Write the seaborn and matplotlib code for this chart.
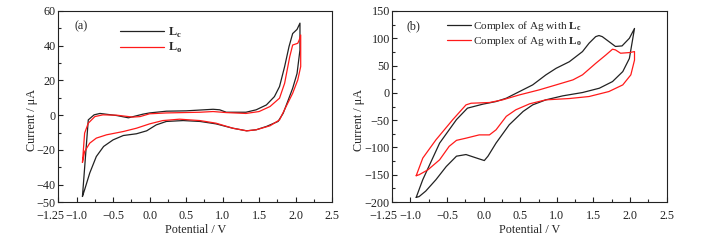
import numpy as np
import pandas as pd
import matplotlib
matplotlib.use('Agg')
import matplotlib.pyplot as plt
import matplotlib.transforms as mtransforms
import seaborn as sns

# potentials (V) and currents (uA), each loop traced once around
a_lc_v = [-0.92, -0.84, -0.76, -0.68, -0.45, -0.29, -0.09, 0.0, 0.23, 0.5, 0.87, 0.96, 1.05, 1.32, 1.46, 1.6,
          1.71, 1.78, 1.85, 1.91, 1.96, 2.02, 2.06,
          2.06, 2.02, 1.96, 1.9, 1.83, 1.76, 1.6, 1.46, 1.33, 1.14, 0.91, 0.69, 0.46, 0.23, 0.09, -0.04,
          -0.18, -0.36, -0.5, -0.63, -0.73, -0.82, -0.89, -0.92]
a_lc_i = [-46.8, -2.7, 0.2, 1.0, -0.2, -1.5, 0.6, 1.3, 2.3, 2.5, 3.4, 3.1, 1.7, 1.7, 3.1, 5.9,
          10.7, 16.5, 28.0, 39.5, 47.0, 49.4, 53.0,
          37.6, 24.0, 15.5, 8.8, 1.1, -3.6, -6.5, -8.4, -9.0, -7.5, -5.0, -3.6, -3.1, -3.6, -5.6, -9.0,
          -10.7, -11.7, -14.2, -18.0, -23.8, -33.3, -42.9, -46.8]

a_lo_v = [-0.92, -0.89, -0.84, -0.75, -0.64, -0.45, -0.23, -0.13, 0.0, 0.23, 0.69, 0.87, 1.05, 1.32,
          1.5, 1.65, 1.78, 1.85, 1.92, 1.96, 2.03, 2.05, 2.07,
          2.07, 2.03, 1.96, 1.87, 1.78, 1.65, 1.46, 1.33, 1.14, 0.91, 0.69, 0.41, 0.18, 0.0, -0.18,
          -0.36, -0.59, -0.73, -0.82, -0.89, -0.92]
a_lo_i = [-27.2, -10.3, -4.6, -0.8, 0.2, 0.0, -1.1, -0.8, 0.8, 1.3, 1.7, 2.1, 1.5, 1.0,
          2.1, 5.0, 9.8, 18.4, 33.7, 40.4, 41.4, 43.3, 46.2,
          28.0, 20.3, 12.6, 5.0, -2.7, -6.1, -8.4, -9.0, -7.5, -4.6, -3.1, -2.3, -3.1, -5.0, -7.5,
          -9.4, -11.3, -13.2, -16.1, -20.9, -27.2]

b_lc_v = [-0.92, -0.83, -0.6, -0.37, -0.22, -0.01, 0.17, 0.31, 0.49, 0.67, 0.85, 0.99, 1.17, 1.35,
          1.44, 1.53, 1.575, 1.62, 1.71, 1.8, 1.89, 1.99, 2.06,
          1.99, 1.9, 1.76, 1.58, 1.35, 1.08, 0.85, 0.67, 0.54, 0.35, 0.17, 0.06, 0.01, -0.06, -0.24,
          -0.37, -0.51, -0.65, -0.79, -0.88, -0.92]
b_lc_i = [-191.5, -159, -92, -49, -28, -20.7, -15.9, -9.8, 2.4, 14.6, 32.9, 45, 57, 75.6,
          91, 103, 105, 103, 94, 85, 86, 100, 118,
          63, 39, 20.7, 8.5, 0.6, -5.5, -12.8, -22, -34, -58.5, -92, -116, -124, -121, -113,
          -116, -135, -159, -180, -190, -191.5]

b_lo_v = [-0.92, -0.83, -0.65, -0.42, -0.24, -0.17, 0.08, 0.26, 0.49, 0.76, 0.99, 1.22, 1.35, 1.53,
          1.67, 1.76, 1.8, 1.87, 1.99, 2.06,
          2.06, 2.01, 1.9, 1.71, 1.44, 1.17, 0.85, 0.63, 0.44, 0.31, 0.17, 0.08, -0.06, -0.24, -0.37,
          -0.47, -0.6, -0.76, -0.88, -0.92]
b_lo_i = [-151.8, -119.5, -86, -49, -22, -19, -17.7, -12.8, -3.7, 5.5, 14.6, 23.8, 33, 54,
          69.5, 80, 78.7, 72.6, 73.8, 75.6,
          60, 33, 14.6, 2.4, -6.7, -10.4, -12.8, -20, -31, -43, -67.7, -77, -77, -83, -87,
          -98, -122.6, -141, -150, -151.8]

lab_a = [r'$\mathbf{L}_\mathbf{c}$', r'$\mathbf{L}_\mathbf{o}$']
lab_b = [r'Complex of Ag with $\mathbf{L}_\mathbf{c}$', r'Complex of Ag with $\mathbf{L}_\mathbf{o}$']

x_major = [-1.25, -1.0, -0.5, 0.0, 0.5, 1.0, 1.5, 2.0, 2.5]
x_labels = ['\u22121.25', '\u22121.0', '\u22120.5', '0.0', '0.5', '1.0', '1.5', '2.0', '2.5']
x_minor = [-0.75, -0.25, 0.25, 0.75, 1.25, 1.75, 2.25]
ya_major = [-50, -40, -20, 0, 20, 40, 60]
ya_minor = [-30, -10, 10, 30, 50]
yb_major = [-200, -150, -100, -50, 0, 50, 100, 150]
yb_minor = [-175, -125, -75, -25, 25, 75, 125]

sns.set_style('ticks')
plt.rcParams['font.family'] = ['Liberation Serif', 'DejaVu Serif']
plt.rcParams['mathtext.fontset'] = 'custom'
plt.rcParams['mathtext.rm'] = 'Liberation Serif'
plt.rcParams['mathtext.bf'] = 'Liberation Serif:bold'
plt.rcParams['axes.unicode_minus'] = True

fs = 8.7


def frame(v1, i1, v2, i2, labels):
    d1 = pd.DataFrame({'V': v1, 'I': i1, 'curve': labels[0]})
    d2 = pd.DataFrame({'V': v2, 'I': i2, 'curve': labels[1]})
    return pd.concat([d1, d2], ignore_index=True)


fig = plt.figure(figsize=(7.16, 2.44), dpi=100)
ax1 = fig.add_axes([0.0815, 0.172, 0.3823, 0.783])
ax2 = fig.add_axes([0.5475, 0.172, 0.3837, 0.783])

pal = ['#222222', '#ff1a1a']

df_a = frame(a_lc_v, a_lc_i, a_lo_v, a_lo_i, lab_a)
sns.lineplot(data=df_a, x='V', y='I', hue='curve', palette=pal, sort=False,
             estimator=None, lw=0.9, ax=ax1)
df_b = frame(b_lc_v, b_lc_i, b_lo_v, b_lo_i, lab_b)
sns.lineplot(data=df_b, x='V', y='I', hue='curve', palette=pal, sort=False,
             estimator=None, lw=0.9, ax=ax2)

for ax, ymaj, ymin, ylim, ylx in [(ax1, ya_major, ya_minor, (-50, 60), -0.075),
                                  (ax2, yb_major, yb_minor, (-200, 150), -0.099)]:
    ax.set_xlim(-1.25, 2.5)
    ax.set_ylim(*ylim)
    ax.set_xticks(x_major)
    ax.set_xticklabels(x_labels)
    ax.set_xticks(x_minor, minor=True)
    ax.set_yticks(ymaj)
    ax.set_yticks(ymin, minor=True)
    ax.tick_params(which='major', direction='in', length=3.5, width=0.8, labelsize=fs, colors='#222222')
    ax.tick_params(axis='x', which='major', pad=6)
    ax.tick_params(axis='y', which='major', pad=2)
    ax.tick_params(which='minor', direction='in', length=2, width=0.8)
    ax.set_xlabel('Potential / V', fontsize=fs, labelpad=1)
    ax.set_ylabel('Current / μA', fontsize=fs, labelpad=0)
    ax.yaxis.set_label_coords(ylx, 0.43)
    for s in ax.spines.values():
        s.set_linewidth(0.8)
        s.set_color('#222222')
        s.set_visible(True)
    # first x label sits to the left of its tick, as in the original
    first = ax.get_xticklabels()[0]
    first.set_horizontalalignment('right')
    first.set_transform(first.get_transform() + mtransforms.ScaledTranslation(4 / 72, 0, fig.dpi_scale_trans))

ax2.tick_params(axis='y', which='major', pad=1.5)

sns.move_legend(ax1, 'upper left', bbox_to_anchor=(0.19, 0.975), frameon=False, title=None,
                fontsize=fs, handlelength=3.6, handletextpad=0.4, labelspacing=0.15, borderpad=0.3)
sns.move_legend(ax2, 'upper left', bbox_to_anchor=(0.167, 1.005), frameon=False, title=None,
                fontsize=8.1, handlelength=2.1, handletextpad=0.2, labelspacing=0.08, borderpad=0.3)

ax1.text(0.058, 0.92, '(a)', transform=ax1.transAxes, fontsize=fs, va='center')
ax2.text(0.054, 0.92, '(b)', transform=ax2.transAxes, fontsize=fs, va='center')

fig.savefig('out.png', dpi=100)
